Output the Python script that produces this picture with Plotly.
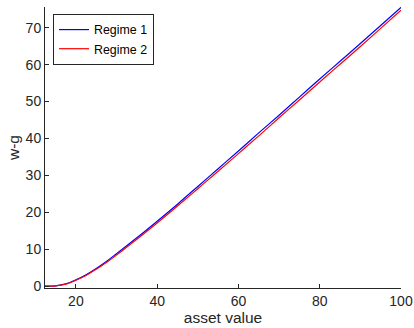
import plotly.graph_objects as go

asset_value = [12.4, 15, 17.5, 20, 22.5, 25, 27.5, 30, 35, 40, 45, 50, 55, 60, 65, 70, 75, 80, 85, 90, 95, 100]
regime1 = [0.0, 0.1, 0.6, 1.7, 3.1, 4.8, 6.7, 8.8, 13.1, 17.6, 22.2, 27.0, 31.8, 36.6, 41.5, 46.3, 51.2, 56.1, 60.9, 65.7, 70.6, 75.5]
regime2 = [0.0, 0.08, 0.55, 1.6, 2.9, 4.6, 6.4, 8.4, 12.7, 17.1, 21.7, 26.4, 31.1, 35.9, 40.7, 45.6, 50.4, 55.3, 60.1, 64.9, 69.8, 74.7]
x_ticks = [20, 40, 60, 80, 100]
y_ticks = [0, 10, 20, 30, 40, 50, 60, 70]

FONT = "Liberation Sans, Arial, sans-serif"

fig = go.Figure()
fig.add_trace(go.Scatter(x=asset_value, y=regime1, mode="lines", name="Regime 1",
                         line=dict(color="#0000ff", width=1.2, shape="spline")))
fig.add_trace(go.Scatter(x=asset_value, y=regime2, mode="lines", name="Regime 2",
                         line=dict(color="#ff0000", width=1.2, shape="spline")))

axis_common = dict(showgrid=False, zeroline=False, showline=True, linecolor="#262626", linewidth=1,
                   ticks="inside", ticklen=4, tickcolor="#262626", tickwidth=1, automargin=False,
                   tickfont=dict(family=FONT, size=14, color="#262626"))

fig.update_layout(
    width=414, height=328,
    margin=dict(l=45, r=13, t=7, b=40, autoexpand=False),
    paper_bgcolor="white", plot_bgcolor="white",
    xaxis=dict(range=[12.4, 100], tickvals=x_ticks,
               title=dict(text="asset value", standoff=2,
                          font=dict(family=FONT, size=15.5, color="#262626")),
               **axis_common),
    yaxis=dict(range=[-0.5, 75.6], tickvals=y_ticks,
               title=dict(text="w-g", standoff=2,
                          font=dict(family=FONT, size=15.5, color="#262626")),
               **axis_common),
    legend=dict(x=0.0225, y=0.975, xanchor="left", yanchor="top",
                bgcolor="white", bordercolor="#262626", borderwidth=1,
                font=dict(family=FONT, size=12.4, color="black"),
                tracegroupgap=0, itemwidth=30),
    showlegend=True,
)

fig.write_html("out.html")
